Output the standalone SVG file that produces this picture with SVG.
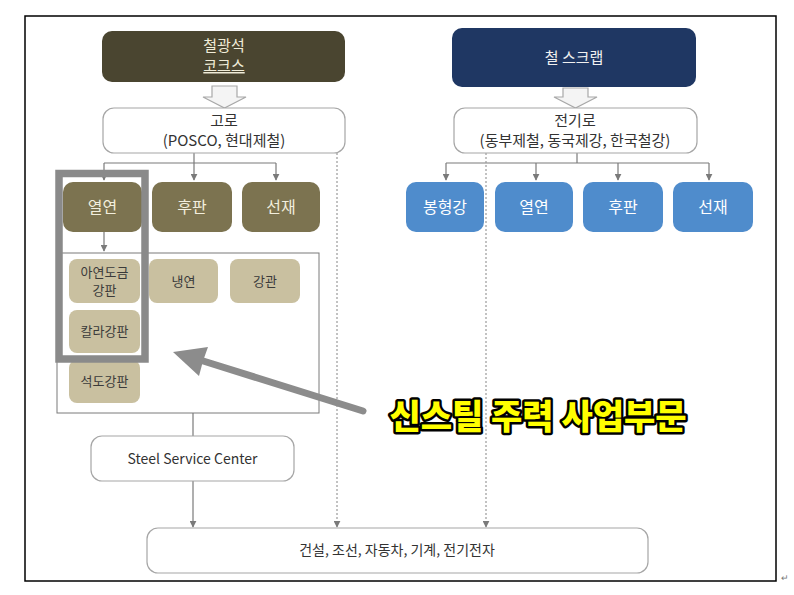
<svg xmlns="http://www.w3.org/2000/svg" width="794" height="595" viewBox="0 0 794 595">
<style>
  .t{font-family:"Noto Sans CJK KR","Noto Sans",sans-serif;text-anchor:middle}
  .lightbox{fill:#fff;stroke:#a6a6a6;stroke-width:1.2}
  .olive{fill:#7c7350}
  .tan{fill:#c9c0a0}
  .blue{fill:#4f8ccc}
  .ot{fill:#f2eedd;font-size:16px}
  .bt{fill:#fff;font-size:16px}
  .tt{fill:#3a3a3a;font-size:13px}
  .dk{fill:#333;font-size:15px}
  .conn{fill:none;stroke:#7a7a7a;stroke-width:1.2}
  .dash{fill:none;stroke:#9a9a9a;stroke-width:1.2;stroke-dasharray:2 2}
  .blk{fill:#f4f4f4;stroke:#a8a8a8;stroke-width:1.2}
</style>
<defs>
  <marker id="ah" viewBox="0 0 10 10" refX="9" refY="5" markerWidth="7" markerHeight="7" markerUnits="userSpaceOnUse" orient="auto">
    <path d="M0,0 L10,5 L0,10 Z" fill="#7a7a7a"/>
  </marker>
</defs>
<rect width="794" height="595" fill="#fff"/>
<rect x="25" y="16" width="751" height="565" fill="none" stroke="#000" stroke-width="1.5"/>
<text x="785" y="581" font-family="Noto Sans, sans-serif" font-size="9" fill="#777" text-anchor="middle">↵</text>

<g id="connectors">
  <path class="blk" d="M212,86 H237 V97 H246 L224.5,108 L203,97 H212 Z"/>
  <path class="blk" d="M563,88 H588 V97 H597 L575.5,108 L554,97 H563 Z"/>
  <path class="conn" d="M194,153 V163"/>
  <path class="conn" d="M104,163 H276"/>
  <path class="conn" d="M104,163 V180" marker-end="url(#ah)"/>
  <path class="conn" d="M194,163 V180" marker-end="url(#ah)"/>
  <path class="conn" d="M276,163 V180" marker-end="url(#ah)"/>
  <path class="conn" d="M104,232 V251" marker-end="url(#ah)"/>
  <path class="conn" d="M193,413 V436"/>
  <path class="conn" d="M193,481 V527" marker-end="url(#ah)"/>
  <path class="conn" d="M577,153 V163"/>
  <path class="conn" d="M446,163 H709"/>
  <path class="conn" d="M446,163 V180" marker-end="url(#ah)"/>
  <path class="conn" d="M536,163 V180" marker-end="url(#ah)"/>
  <path class="conn" d="M618,163 V180" marker-end="url(#ah)"/>
  <path class="conn" d="M709,163 V180" marker-end="url(#ah)"/>
  <path class="dash" d="M337,153 V527" marker-end="url(#ah)"/>
  <path class="dash" d="M486,153 V527" marker-end="url(#ah)"/>
</g>

<g id="n-ore">
  <rect x="102" y="31" width="243" height="51" rx="10" fill="#4a4530"/>
  <text class="t" x="224" y="51" fill="#f0ecd8" font-size="15">철광석</text>
  <text class="t" x="224" y="71" fill="#f0ecd8" font-size="15" text-decoration="underline">코크스</text>
</g>
<g id="n-scrap">
  <rect x="452" y="28" width="244" height="59" rx="10" fill="#1f3763"/>
  <text class="t" x="574" y="63" fill="#f0f0f0" font-size="15">철 스크랩</text>
</g>
<g id="n-blast">
  <rect class="lightbox" x="103" y="108" width="242" height="45" rx="11"/>
  <text class="t dk" x="224" y="126">고로</text>
  <text class="t dk" x="224" y="146">(POSCO, 현대제철)</text>
</g>
<g id="n-eaf">
  <rect class="lightbox" x="454" y="108" width="243" height="45" rx="11"/>
  <text class="t dk" x="575" y="126">전기로</text>
  <text class="t dk" x="575" y="146">(동부제철, 동국제강, 한국철강)</text>
</g>

<g id="n-hot-l"><rect class="olive" x="63" y="182" width="79" height="50" rx="10"/><text class="t ot" x="102.5" y="213">열연</text></g>
<g id="n-plate-l"><rect class="olive" x="152" y="182" width="80" height="50" rx="10"/><text class="t ot" x="192" y="213">후판</text></g>
<g id="n-wire-l"><rect class="olive" x="242" y="182" width="78" height="50" rx="10"/><text class="t ot" x="281" y="213">선재</text></g>

<g id="n-section"><rect class="blue" x="406" y="182" width="78" height="50" rx="10"/><text class="t bt" x="445" y="213">봉형강</text></g>
<g id="n-hot-r"><rect class="blue" x="495" y="182" width="78" height="50" rx="10"/><text class="t bt" x="534" y="213">열연</text></g>
<g id="n-plate-r"><rect class="blue" x="583" y="182" width="80" height="50" rx="10"/><text class="t bt" x="623" y="213">후판</text></g>
<g id="n-wire-r"><rect class="blue" x="673" y="182" width="80" height="50" rx="10"/><text class="t bt" x="713" y="213">선재</text></g>

<g id="n-container"><rect x="57" y="253" width="262" height="160" fill="none" stroke="#7a7a7a" stroke-width="1"/></g>
<g id="n-galv"><rect class="tan" x="69" y="259" width="71" height="44" rx="8"/><text class="t tt" x="104.5" y="277">아연도금</text><text class="t tt" x="104.5" y="295">강판</text></g>
<g id="n-cold"><rect class="tan" x="149" y="259" width="69" height="44" rx="8"/><text class="t tt" x="183.5" y="286">냉연</text></g>
<g id="n-pipe"><rect class="tan" x="230" y="259" width="70" height="44" rx="8"/><text class="t tt" x="265" y="286">강관</text></g>
<g id="n-color"><rect class="tan" x="69" y="310" width="71" height="43" rx="8"/><text class="t tt" x="104.5" y="336">칼라강판</text></g>
<g id="n-tin"><rect class="tan" x="69" y="360" width="71" height="43" rx="8"/><text class="t tt" x="104.5" y="386">석도강판</text></g>

<g id="n-ssc">
  <rect class="lightbox" x="91" y="436" width="203" height="45" rx="11"/>
  <text class="t" x="192.5" y="464" font-size="14" fill="#333" font-family="Noto Sans, sans-serif">Steel Service Center</text>
</g>
<g id="n-end">
  <rect class="lightbox" x="147" y="528" width="501" height="45" rx="11"/>
  <text class="t" x="397" y="555" font-size="14" fill="#333">건설, 조선, 자동차, 기계, 전기전자</text>
</g>

<g id="highlight">
  <rect x="59" y="173.5" width="86" height="185.5" fill="none" stroke="#8a8a8a" stroke-width="7.5"/>
  <line x1="363" y1="411" x2="200" y2="360" stroke="#8c8c8c" stroke-width="7" stroke-linecap="round"/>
  <path d="M173,352 L208,347 L203,361 L199,376 Z" fill="#8c8c8c"/>
</g>
<g id="callout">
  <text class="t" x="538" y="429" font-size="34" font-weight="900" fill="#ffff00" stroke="#000" stroke-width="5" stroke-linejoin="round" paint-order="stroke">신스틸 주력 사업부문</text>
</g>
</svg>
